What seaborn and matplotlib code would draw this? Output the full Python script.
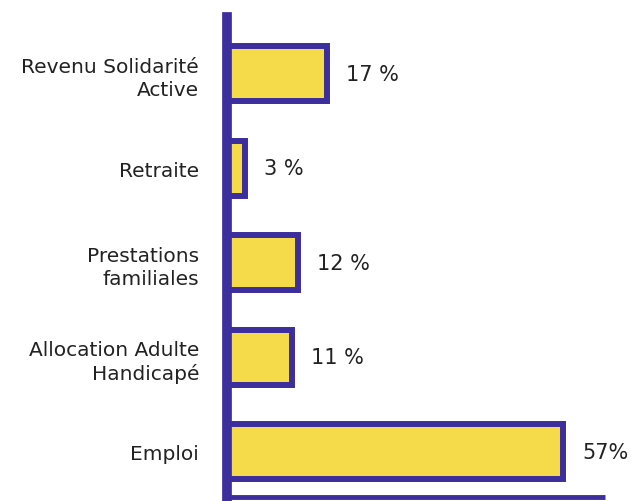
import matplotlib
matplotlib.use("Agg")
import matplotlib.pyplot as plt
import pandas as pd
import seaborn as sns

# data
categories = ["Revenu Solidarité\nActive", "Retraite", "Prestations\nfamiliales",
              "Allocation Adulte\nHandicapé", "Emploi"]
values = [17, 3, 12, 11, 57]
value_labels = ["17 %", "3 %", "12 %", "11 %", "57%"]

purple = "#3d2e9e"
yellow = "#f5da4a"
text_col = "#222222"

sns.set_theme(style="white")
plt.rcParams['font.family'] = ['DejaVu Sans']

df = pd.DataFrame({"cat": categories, "val": values})

fig = plt.figure(figsize=(6.31, 5.02), dpi=100)
ax = fig.add_axes([227 / 631, 4 / 502, 378 / 631, 480 / 502])

sns.barplot(data=df, x="val", y="cat", orient="h", color=yellow, width=0.58,
            edgecolor=purple, linewidth=4.3, saturation=1, ax=ax)
for p in ax.patches:
    p.set_facecolor(yellow)

for i, (v, lab) in enumerate(zip(values, value_labels)):
    ax.text(v + 3.2, i, lab, va="center", ha="left", fontsize=15, color=text_col)

ax.set_xlim(0, 64.1)
ax.set_ylim(4.48, -0.6)
ax.set_xlabel("")
ax.set_ylabel("")
ax.set_xticks([])
ax.tick_params(axis="y", length=0, pad=20, labelsize=14.5, labelcolor=text_col)
for t in ax.get_yticklabels():
    t.set_ha("right")
    t.set_multialignment("right")
    t.set_linespacing(1.3)

sns.despine(ax=ax, top=True, right=True)
ax.spines["left"].set_color(purple)
ax.spines["left"].set_linewidth(7)
ax.spines["left"].set_capstyle("projecting")
ax.spines["bottom"].set_color(purple)
ax.spines["bottom"].set_linewidth(3.5)
ax.spines["bottom"].set_capstyle("butt")

fig.savefig("out.png", dpi=100)
